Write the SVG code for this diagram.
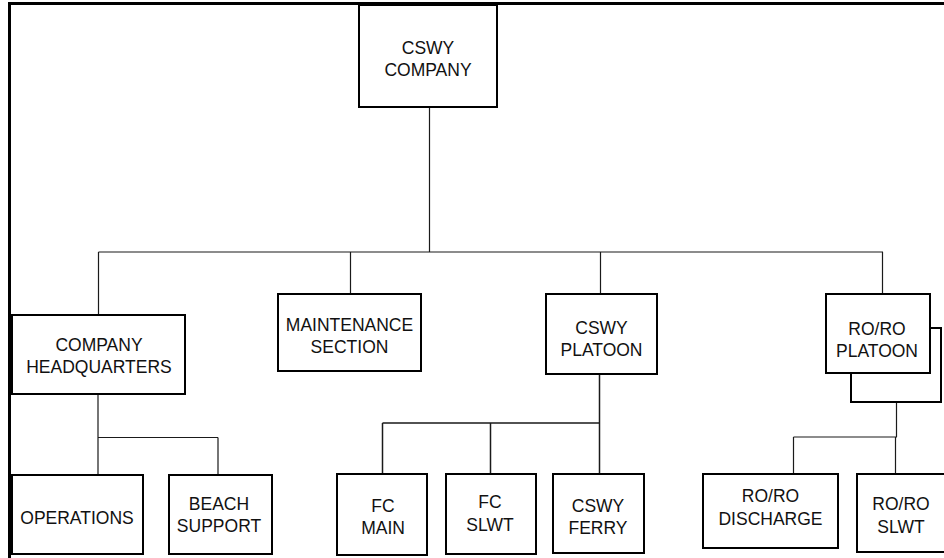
<svg xmlns="http://www.w3.org/2000/svg" width="944" height="558" viewBox="0 0 944 558">
<style>
.box{fill:#fff;stroke:#000;stroke-width:2}
.ln{fill:none;stroke:#1a1a1a;stroke-width:1.2}
.t{font-family:"Liberation Sans",Arial,sans-serif;font-size:17.5px;fill:#111;text-anchor:middle}
</style>
<rect width="944" height="558" fill="#fff"/>
<g id="frame">
<path d="M8,3.5 H944 M9.5,2 V558" fill="none" stroke="#000" stroke-width="3"/>
</g>
<g id="connectors">
<path class="ln" d="M429.5,107 V252 M98.5,252 H883 M98.5,252 V315 M350.5,252 V294 M600.5,252 V294 M882.5,252 V294"/>
<path class="ln" d="M98,394 V475 M98,437.5 H218 M218,437.5 V475"/>
<path class="ln" d="M599.5,374 V423 M382.5,423 H600 M382.5,423 V474 M490.5,423 V474 M599.5,423 V474" style="stroke-width:1.5"/>
<path class="ln" d="M896.5,402 V437 M793.5,437 H897 M793.5,437 V474 M895.5,437 V474"/>
</g>
<g id="n-company">
<rect class="box" x="359" y="5" width="138" height="102"/>
<text class="t" x="428" y="54">CSWY</text>
<text class="t" x="428" y="76">COMPANY</text>
</g>
<g id="n-hq">
<rect class="box" x="12" y="315" width="173" height="79"/>
<text class="t" x="99" y="351">COMPANY</text>
<text class="t" x="99" y="373">HEADQUARTERS</text>
</g>
<g id="n-maint">
<rect class="box" x="278" y="294" width="143" height="77"/>
<text class="t" x="349.5" y="331">MAINTENANCE</text>
<text class="t" x="349.5" y="353">SECTION</text>
</g>
<g id="n-cswyplt">
<rect class="box" x="546" y="294" width="111" height="80"/>
<text class="t" x="601.5" y="334">CSWY</text>
<text class="t" x="601.5" y="356">PLATOON</text>
</g>
<g id="n-roroplt">
<rect class="box" x="851" y="328" width="90" height="74"/>
<rect class="box" x="826" y="294" width="104" height="79"/>
<text class="t" x="877" y="335">RO/RO</text>
<text class="t" x="877" y="357">PLATOON</text>
</g>
<g id="n-ops">
<rect class="box" x="12" y="475" width="131" height="79"/>
<text class="t" x="77" y="524">OPERATIONS</text>
</g>
<g id="n-beach">
<rect class="box" x="169" y="475" width="103" height="79"/>
<text class="t" x="219" y="510">BEACH</text>
<text class="t" x="219" y="532">SUPPORT</text>
</g>
<g id="n-fcmain">
<rect class="box" x="337" y="474" width="90" height="81"/>
<text class="t" x="383" y="512">FC</text>
<text class="t" x="383" y="534">MAIN</text>
</g>
<g id="n-fcslwt">
<rect class="box" x="446" y="474" width="90" height="80"/>
<text class="t" x="490" y="508">FC</text>
<text class="t" x="490" y="531">SLWT</text>
</g>
<g id="n-ferry">
<rect class="box" x="553" y="474" width="91" height="79"/>
<text class="t" x="598" y="512">CSWY</text>
<text class="t" x="598" y="534">FERRY</text>
</g>
<g id="n-rorodis">
<rect class="box" x="703" y="474" width="135" height="74"/>
<text class="t" x="770.5" y="502">RO/RO</text>
<text class="t" x="770.5" y="525">DISCHARGE</text>
</g>
<g id="n-roroslwt">
<rect class="box" x="857" y="474" width="89" height="78"/>
<text class="t" x="901" y="510">RO/RO</text>
<text class="t" x="901" y="533">SLWT</text>
</g>
</svg>
